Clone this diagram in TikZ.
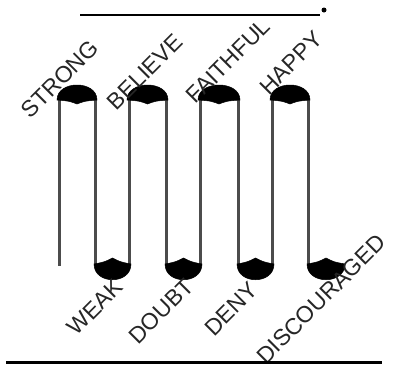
\documentclass[tikz,border=0pt]{standalone}
\usepackage{fontspec}
\setmainfont{Liberation Sans}
\begin{document}
\begin{tikzpicture}[x=1pt,y=-1pt,
  tube/.style={draw=black!70, line width=3pt},
  capfill/.style={fill=black, draw=black, line width=0.5pt},
  word/.style={rotate=45, text=black!85, font=\fontsize{23}{23}\selectfont, inner sep=0pt, anchor=center}]
\useasboundingbox (0,0) rectangle (394,367);
% blank line and dot
\coordinate (bl) at (80,15);
\coordinate (br) at (320,15);
\draw[line width=1.6pt] (bl) -- (br);
\node[circle, fill=black, inner sep=0pt, minimum size=5pt] (dot) at (324,10) {};
% tube vertical lines
\foreach \x in {95,129,166,200,238,272,308} {
  \draw[tube] (\x,99) -- (\x,265);
}
\draw[tube] (59,99) -- (59,266);
% top caps
\foreach \xl/\xr in {57/97,127/168,198/240,270/310} {
  \pgfmathsetmacro{\xc}{(\xl+\xr)/2}
  \draw[capfill] (\xl,100) .. controls (\xl,80) and (\xr,80) .. (\xr,100)
     .. controls (\xc+8,101) .. (\xc,104) .. controls (\xc-8,101) .. cycle;
}
% bottom caps
\foreach \xl/\xr in {94/131,165/202,237/274,307/345} {
  \pgfmathsetmacro{\xc}{(\xl+\xr)/2}
  \draw[capfill] (\xl,264) .. controls (\xc-8,262) .. (\xc,258) .. controls (\xc+8,262) .. (\xr,264)
     .. controls (\xr,285) and (\xl,285) .. cycle;
}
% labels
\node[word] (strong) at (60,79) {STRONG};
\node[word] (believe) at (145,72) {BELIEVE};
\node[word] (faithful) at (228,61) {FAITHFUL};
\node[word] (happy) at (291,63) {HAPPY};
\node[word] (weak) at (95,307) {WEAK};
\node[word] (doubt) at (161,311) {DOUBT};
\node[word] (deny) at (231,309) {DENY};
\node[word] (disc) at (321,299) {DISCOURAGED};
% bottom line
\coordinate (ll) at (6,362);
\coordinate (lr) at (382,362);
\draw[line width=3pt] (ll) -- (lr);
\end{tikzpicture}
\end{document}
